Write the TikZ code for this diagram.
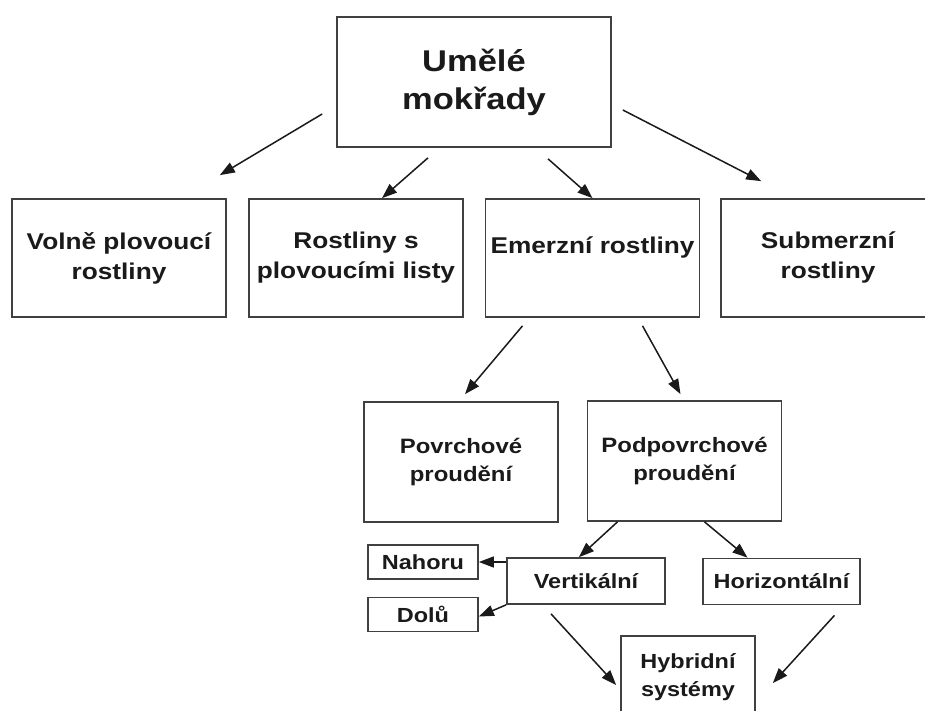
\documentclass[tikz,border=0pt]{standalone}
\usepackage{fontspec}
\setmainfont{Liberation Sans}[FakeStretch=1.15]
\usetikzlibrary{arrows.meta, positioning, calc}
\definecolor{WetlandLine}{HTML}{404040}
\definecolor{WetlandText}{HTML}{1A1A1A}

\begin{document}
\begin{tikzpicture}[
    x=0.5pt, y=-0.5pt,
    box/.style={
      rectangle, draw=WetlandLine, line width=0.85pt, fill=white, inner sep=0pt,
      minimum width=107pt, minimum height=59pt, align=center, text=WetlandText,
      font=\fontsize{11.4}{15}\selectfont\bfseries
    },
    subbox/.style={
      box, minimum width=97pt, minimum height=60pt,
      font=\fontsize{10.4}{14}\selectfont\bfseries
    },
    smallbox/.style={
      box, minimum width=55pt, minimum height=17pt,
      font=\fontsize{10.2}{14}\selectfont\bfseries
    },
    arr/.style={-{Triangle[length=7.5pt, width=5.5pt]}, line width=0.75pt, draw=WetlandText}
  ]
    \fill[white] (0,0) rectangle (925,711);
    \useasboundingbox (0,0) rectangle (925,711);
    \clip (0,0) rectangle (925,711);

    % top
    \node[box, minimum width=137pt, minimum height=65pt,
          font=\fontsize{15}{19}\selectfont\bfseries] (wetland) at (474,82) {Umělé\\mokřady};

    % plant types
    \node[box] (floating) at (119,258) {Volně plovoucí\\rostliny};
    \node[box] (leaves) at (356,258) {Rostliny s\\plovoucími listy};
    \node[box, text height=8pt, text depth=13pt] (emergent) at (592.5,258) {Emerzní rostliny};
    \node[box] (submerged) at (828,258) {Submerzní\\rostliny};

    % flow
    \node[subbox] (surface) at (461,462) {Povrchové\\proudění};
    \node[subbox] (subsurface) at (684.5,461) {Podpovrchové\\proudění};

    \node[smallbox, minimum width=79pt, minimum height=23pt] (vertical) at (586,581) {Vertikální};
    \node[smallbox, minimum width=78.5pt, minimum height=23pt] (horizontal) at (781.5,581.5) {Horizontální};
    \node[smallbox] (up) at (423,562) {Nahoru};
    \node[smallbox] (down) at (423,614.5) {Dolů};
    \node[smallbox, minimum width=67pt, minimum height=41pt] (hybrid) at (688,677) {Hybridní\\systémy};

    \draw[arr] ($(wetland.west)+(-14,32)$) -- ($(floating.north east)+(-7,-23)$);
    \draw[arr] ($(wetland.south)+(-46,10)$) -- ($(leaves.north)+(26,0)$);
    \draw[arr] ($(wetland.south)+(74,11)$) -- (emergent.north);
    \draw[arr] ($(wetland.east)+(11,28)$) -- ($(submerged.north west)+(41,-17)$);

    \draw[arr] ($(emergent.south)+(-70,8)$) -- ($(surface.north)+(4,-7)$);
    \draw[arr] ($(emergent.south)+(50,8)$) -- ($(subsurface.north)+(-4,-6)$);

    \draw[arr] ($(subsurface.south)+(-67,0)$) -- ($(vertical.north)+(-7,0)$);
    \draw[arr] ($(subsurface.south)+(20,0)$) -- ($(horizontal.north)+(-34,0)$);

    \draw[arr] (vertical.west |- up.east) -- (up.east);
    \draw[arr] (vertical.south west) -- ($(down.east)+(0,2)$);

    \draw[arr] ($(vertical.south)+(-35,9)$) -- ($(hybrid.west)+(-4,8)$);
    \draw[arr] ($(horizontal.south)+(53,10)$) -- ($(hybrid.east)+(17,6)$);
  \end{tikzpicture}
\end{document}
